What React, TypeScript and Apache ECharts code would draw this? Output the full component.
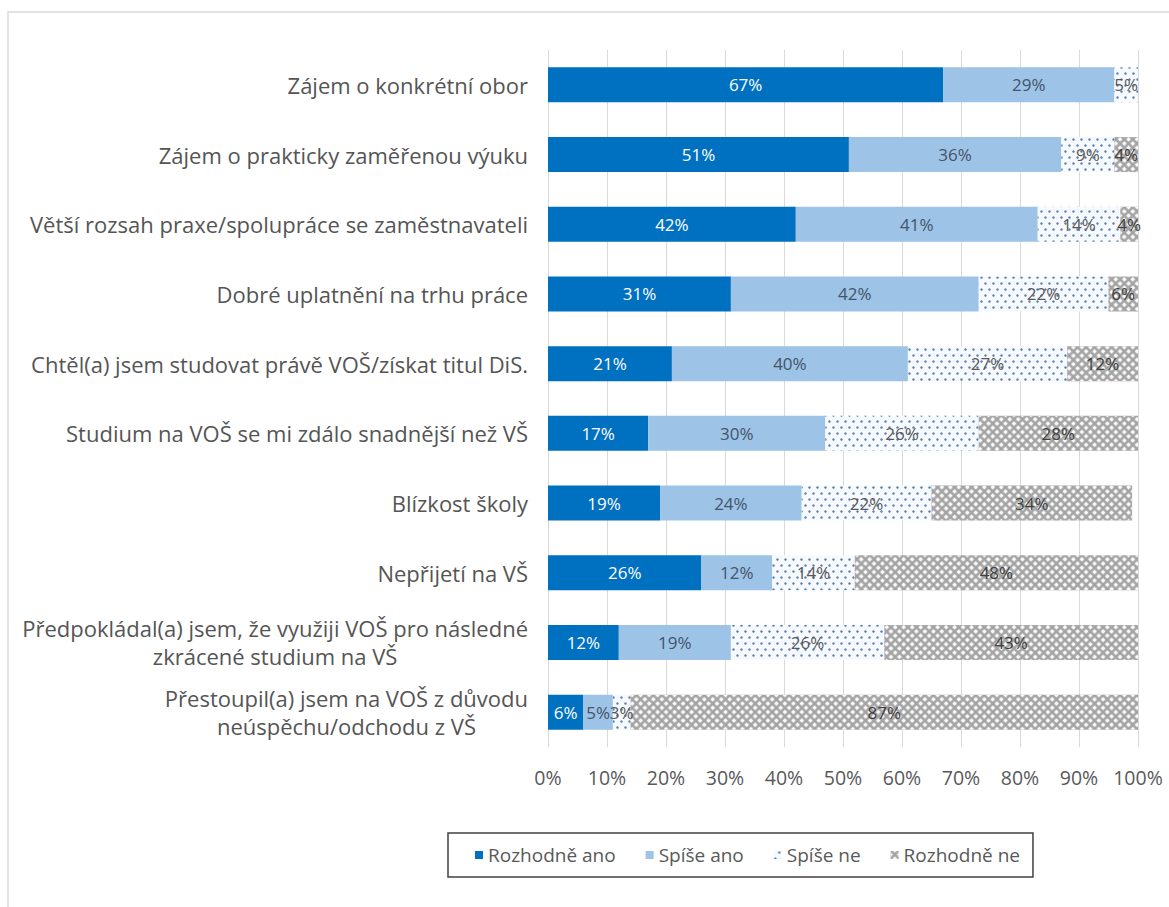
import React, { useEffect, useRef } from "react";
import * as echarts from "echarts";

const categories = [
  "Zájem o konkrétní obor",
  "Zájem o prakticky zaměřenou výuku",
  "Větší rozsah praxe/spolupráce se zaměstnavateli",
  "Dobré uplatnění na trhu práce",
  "Chtěl(a) jsem studovat právě VOŠ/získat titul DiS.",
  "Studium na VOŠ se mi zdálo snadnější než VŠ",
  "Blízkost školy",
  "Nepřijetí na VŠ",
  "Předpokládal(a) jsem, že využiji VOŠ pro následné\nzkrácené studium na VŠ",
  "Přestoupil(a) jsem na VOŠ z důvodu\nneúspěchu/odchodu z VŠ",
];
const seriesNames = ["Rozhodně ano", "Spíše ano", "Spíše ne", "Rozhodně ne"];
const rozhodneAno = [67, 51, 42, 31, 21, 17, 19, 26, 12, 6];
const spiseAno = [29, 36, 41, 42, 40, 30, 24, 12, 19, 5];
const spiseNe = [5, 9, 14, 22, 27, 26, 22, 14, 26, 3];
const rozhodneNe = [0, 4, 4, 6, 12, 28, 34, 48, 43, 87];
const xTicks = [0, 10, 20, 30, 40, 50, 60, 70, 80, 90, 100];

const FONT = "'Open Sans', 'Noto Sans', sans-serif";

export default function App() {
  const ref = useRef<HTMLDivElement>(null);
  useEffect(() => {
    document.body.style.margin = "0";
    const chart = echarts.init(ref.current!, undefined, { renderer: "svg" });
    const cats = [...categories].reverse();
    const rev = (a: number[]) => [...a].reverse();
    const labelBase = { show: true, position: "inside", fontSize: 17, fontFamily: FONT, formatter: (p: any) => (p.value > 0 ? p.value + "%" : "") };
    const styles: any[] = [
      { color: "#0070C0", label: { ...labelBase, color: "#ffffff" } },
      { color: "#9DC3E6", label: { ...labelBase, color: "#44546A" } },
      {
        color: "#f6f9fd",
        decal: { symbol: "circle", symbolSize: 0.85, dashArrayX: [[2.5, 5], [0, 4, 2.5, 1]], dashArrayY: [2.5, 2.5], color: "#5a80ab" },
        label: { ...labelBase, color: "#595959" },
      },
      {
        color: "#a2a2a2",
        decal: { symbol: "rect", symbolSize: 0.7, dashArrayX: [5, 0.01], dashArrayY: [5, 0.01], rotation: Math.PI / 4, color: "#fafafa" },
        label: { ...labelBase, color: "#404040" },
      },
    ];
    const datas = [rozhodneAno, spiseAno, spiseNe, rozhodneNe];
    const option: any = {
      animation: false,
      textStyle: { fontFamily: FONT },
      graphic: [
        { type: "rect", shape: { x: 8, y: 12, width: 1200, height: 1000 }, style: { fill: "none", stroke: "#d9d9d9", lineWidth: 1.5 }, silent: true },
      ],
      grid: { left: 548, right: 31, top: 50, bottom: 160, containLabel: false },
      xAxis: {
        type: "value",
        min: 0,
        max: 100,
        interval: 10,
        axisLine: { show: false },
        axisTick: { show: false },
        splitLine: { show: true, lineStyle: { color: "#d9d9d9", width: 1 } },
        axisLabel: { formatter: (v: number) => (xTicks.includes(v) ? v + "%" : ""), fontSize: 19.5, color: "#595959", margin: 20, fontFamily: FONT },
      },
      yAxis: {
        type: "category",
        data: cats,
        axisLine: { show: false },
        axisTick: { show: false },
        axisLabel: {
          fontSize: 22,
          color: "#555555",
          margin: 20,
          align: "right",
          fontFamily: FONT,
          lineHeight: 28,
          formatter: (v: string) => v.split("\n").map((l) => "{c|" + l + "}").join("\n"),
          rich: { c: { align: "center", fontSize: 22, color: "#555555", fontFamily: FONT, lineHeight: 28 } },
        },
      },
      legend: {
        data: seriesNames,
        left: 448,
        top: 833,
        orient: "horizontal",
        padding: [9, 13, 9, 27],
        borderColor: "#404040",
        borderWidth: 1.5,
        itemGap: 30,
        itemWidth: 8,
        itemHeight: 8,
        icon: "rect",
        textStyle: { fontSize: 19, color: "#595959", fontFamily: FONT, lineHeight: 26 },
      },
      series: datas.map((d, i) => ({
        name: seriesNames[i],
        type: "bar",
        stack: "total",
        barWidth: 35,
        data: rev(d),
        itemStyle: { color: styles[i].color, decal: styles[i].decal },
        label: styles[i].label,
      })),
    };
    chart.setOption(option);
    return () => chart.dispose();
  }, []);
  return <div ref={ref} style={{ position: "absolute", left: 0, top: 0, width: 1169, height: 907, background: "#fff" }} />;
}
